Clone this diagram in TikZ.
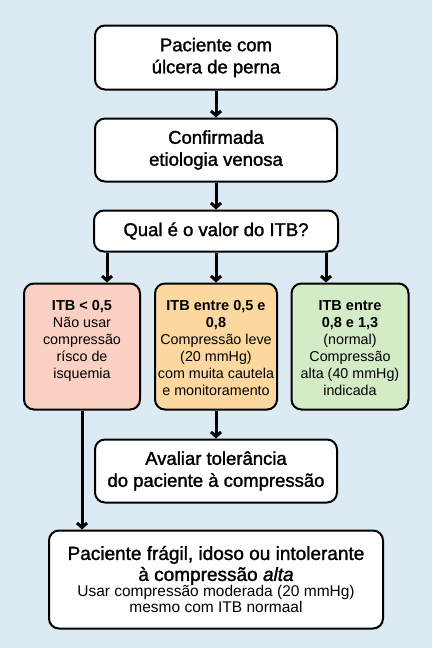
\documentclass[tikz,border=0pt]{standalone}
\usepackage{fontspec}
\setmainfont{Liberation Sans}
\newfontfamily\medfont{Liberation Sans}[FakeBold=1.5]
\usetikzlibrary{arrows.meta}
\definecolor{bgblue}{HTML}{DCEAF3}
\definecolor{pinkf}{HTML}{FAD0C3}
\definecolor{orangef}{HTML}{FDD89E}
\definecolor{greenf}{HTML}{D3ECC6}
\begin{document}
\begin{tikzpicture}[x=1pt,y=1pt,
  box/.style={draw=black, line width=2pt, rounded corners=10pt, fill=white, align=center, inner sep=0pt},
  title/.style={font=\medfont\fontsize{18.5}{22}\selectfont},
  colbox/.style={draw=black, line width=2pt, rounded corners=10pt, inner sep=0pt},
  conn/.style={draw=black, line width=3pt, -{Straight Barb[length=4.5pt,width=10pt]}}]
\fill[bgblue] (0,0) rectangle (432,-648);
\useasboundingbox (0,0) rectangle (432,-648);

\node[box,title,minimum width=242,minimum height=64] (p) at (216,-57.5) {Paciente com\\úlcera de perna};
\node[box,title,minimum width=242,minimum height=63] (c) at (216,-150) {Confirmada\\etiologia venosa};
\node[box,title,minimum width=244,minimum height=41] (q) at (216,-231) {Qual é o valor do ITB?};

\node[colbox,fill=pinkf] (lc) at (82,-346.5) {\parbox[c][126pt][t]{116pt}{\centering\fontsize{14.3}{17}\selectfont\vspace*{17pt}{\bfseries\fontsize{14.5}{17}\selectfont ITB < 0,5}\\Não usar\\compressão\\rísco de\\isquemia}};
\node[colbox,fill=orangef] (mc) at (216,-346.5) {\parbox[c][126pt][t]{122pt}{\centering\fontsize{14.3}{17}\selectfont\vspace*{17pt}{\bfseries\fontsize{14.5}{17}\selectfont ITB entre 0,5 e\\0,8}\\Compressão leve\\(20 mmHg)\\com muita cautela\\e monitoramento}};
\node[colbox,fill=greenf] (rc) at (350,-346.5) {\parbox[c][126pt][t]{117pt}{\centering\fontsize{14.3}{17}\selectfont\vspace*{17pt}{\bfseries\fontsize{14.5}{17}\selectfont ITB entre\\0,8 e 1,3}\\(normal)\\Compressão\\alta (40 mmHg)\\indicada}};

\node[box,title,minimum width=242,minimum height=63] (av) at (216,-471) {Avaliar tolerância\\do paciente à compressão};
\node[box,minimum width=334,minimum height=98] (bt) at (216,-579.5) {\parbox{330pt}{\centering\medfont\fontsize{19}{21}\selectfont Paciente frágil, idoso ou intolerante\\à compressão \textit{alta}\par\normalfont\fontsize{15.5}{16}\selectfont Usar compressão moderada (20 mmHg)\\mesmo com ITB normaal\par}};

\path[conn] (p.south) -- (c.north);
\path[conn] (c.south) -- (q.north);
\path[conn] ([xshift=14pt]q.south west) -- ([xshift=14pt]q.south west |- lc.north);
\path[conn] (q.south) -- (mc.north);
\path[conn] ([xshift=-13pt]q.south east) -- ([xshift=-13pt]q.south east |- rc.north);
\path[conn] (mc.south) -- (av.north);
\path[conn] (lc.south) -- (lc.south |- bt.north);
\end{tikzpicture}
\end{document}
